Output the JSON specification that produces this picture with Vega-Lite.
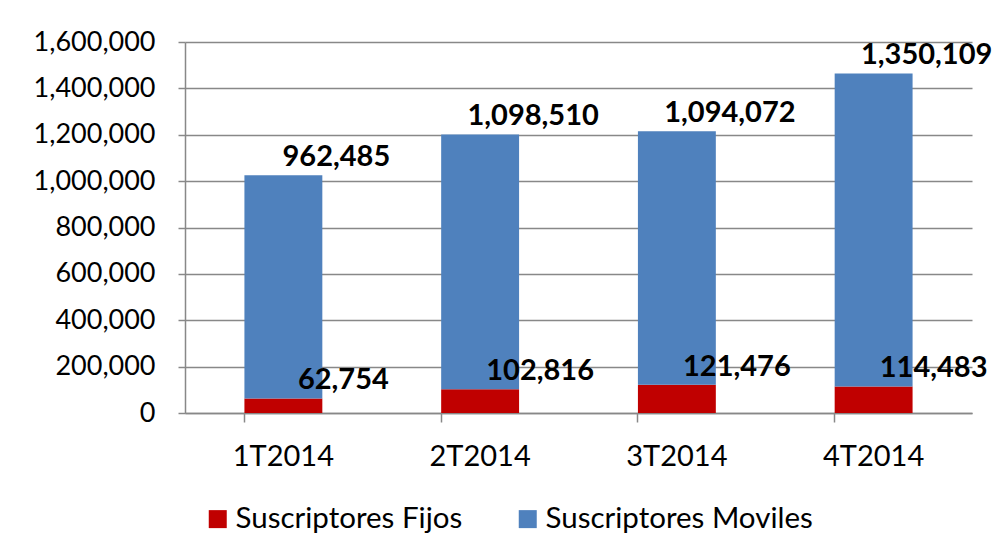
{
  "$schema": "https://vega.github.io/schema/vega-lite/v6.json",
  "autosize": {"type": "none"},
  "padding": {"left": 185, "top": 42, "right": 21, "bottom": 141},
  "width": 787,
  "height": 371,
  "background": "white",
  "config": {
    "view": {"stroke": null},
    "font": "Lato"
  },
  "data": {
    "values": [
      {"trimestre": "1T2014", "serie": "Suscriptores Fijos", "valor": 62754},
      {"trimestre": "1T2014", "serie": "Suscriptores Moviles", "valor": 962485},
      {"trimestre": "2T2014", "serie": "Suscriptores Fijos", "valor": 102816},
      {"trimestre": "2T2014", "serie": "Suscriptores Moviles", "valor": 1098510},
      {"trimestre": "3T2014", "serie": "Suscriptores Fijos", "valor": 121476},
      {"trimestre": "3T2014", "serie": "Suscriptores Moviles", "valor": 1094072},
      {"trimestre": "4T2014", "serie": "Suscriptores Fijos", "valor": 114483},
      {"trimestre": "4T2014", "serie": "Suscriptores Moviles", "valor": 1350109}
    ]
  },
  "encoding": {
    "x": {
      "field": "trimestre", "type": "nominal", "title": null,
      "scale": {"paddingInner": 0.604, "paddingOuter": 0.302},
      "axis": {
        "labelAngle": 0, "labelFont": "Lato", "labelFontSize": 29, "labelColor": "#000000",
        "domainColor": "#888888", "domainWidth": 1.5, "tickColor": "#888888", "tickWidth": 1.5,
        "tickSize": 9, "labelPadding": 20, "bandPosition": 0
      }
    },
    "y": {
      "field": "valor", "type": "quantitative", "title": null, "stack": "zero",
      "scale": {"domain": [0, 1600000], "nice": false},
      "axis": {
        "values": [0, 200000, 400000, 600000, 800000, 1000000, 1200000, 1400000, 1600000],
        "format": ",d", "labelFont": "Lato", "labelFontSize": 27, "labelColor": "#000000",
        "domainColor": "#888888", "domainWidth": 1.5, "tickColor": "#888888", "tickWidth": 1.5,
        "tickSize": 7, "labelPadding": 23,
        "grid": true, "gridColor": "#888888", "gridWidth": 1.5
      }
    }
  },
  "layer": [
    {
      "mark": {"type": "bar"},
      "encoding": {
        "order": {"field": "serie", "sort": "ascending"},
        "color": {
          "field": "serie", "type": "nominal",
          "scale": {"domain": ["Suscriptores Fijos", "Suscriptores Moviles"], "range": ["#C00000", "#4F81BD"]},
          "legend": {
            "title": null, "orient": "none", "direction": "horizontal",
            "legendX": 18, "legendY": 462,
            "symbolType": "square", "symbolSize": 324, "symbolStrokeWidth": 0,
            "labelFont": "Lato", "labelFontSize": 29.5, "labelColor": "#000000",
            "labelOffset": 3, "columnPadding": 50, "labelLimit": 400
          }
        }
      }
    },
    {
      "transform": [{"filter": "datum.serie === 'Suscriptores Fijos'"}],
      "mark": {"type": "text", "font": "Lato", "fontWeight": "bold", "fontSize": 29, "dx": 60, "dy": -18, "baseline": "middle", "color": "#000000"},
      "encoding": {
        "text": {"field": "valor", "type": "quantitative", "format": ",d"}
      }
    },
    {
      "transform": [
        {"stack": "valor", "groupby": ["trimestre"], "sort": [{"field": "serie"}], "as": ["y0", "y1"]},
        {"filter": "datum.serie === 'Suscriptores Moviles'"}
      ],
      "mark": {"type": "text", "font": "Lato", "fontWeight": "bold", "fontSize": 29, "dx": 53, "dy": -18, "baseline": "middle", "color": "#000000"},
      "encoding": {
        "y": {"field": "y1", "type": "quantitative"},
        "text": {"field": "valor", "type": "quantitative", "format": ",d"}
      }
    }
  ]
}
